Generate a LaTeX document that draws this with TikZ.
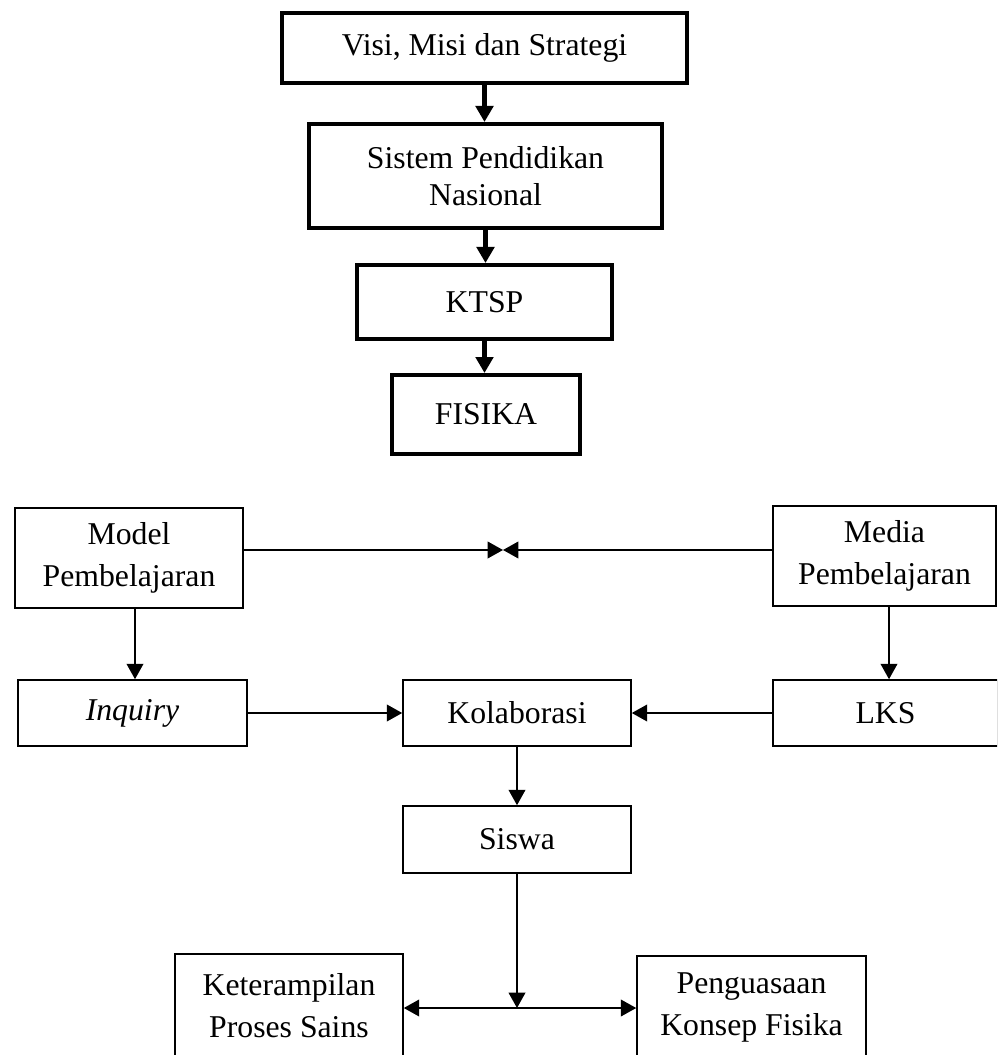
\documentclass[tikz,border=0pt]{standalone}
\usepackage{fontspec}
\setmainfont{Liberation Serif}
\usetikzlibrary{arrows.meta}
\begin{document}
\begin{tikzpicture}[x=0.75pt,y=-0.75pt,
  thickbox/.style={draw, line width=3pt, inner sep=0pt, align=center, font=\fontsize{23.8}{27.5}\selectfont},
  thinbox/.style={draw, line width=1.2pt, inner sep=0pt, align=center, font=\fontsize{23.8}{31.5}\selectfont},
  thickarr/.style={line width=3.2pt, -{Triangle[length=12pt,width=13pt]}},
  thinarr/.style={line width=1.2pt, -{Triangle[length=11.5pt,width=12.5pt]}}]
\useasboundingbox (0,0) rectangle (997,1055);
\clip (0,0) rectangle (997,1055);

% top chain
\node[thickbox, minimum width=303.75pt, minimum height=52.5pt] (visi) at (484.5,48) {Visi, Misi dan Strategi};
\node[thickbox, minimum width=264.75pt, minimum height=78pt] (sistem) at (485.5,176) {Sistem Pendidikan\\Nasional};
\node[thickbox, minimum width=191.25pt, minimum height=55.5pt] (ktsp) at (484.5,302) {KTSP};
\node[thickbox, minimum width=141pt, minimum height=59.25pt] (fisika) at (486,414.5) {FISIKA};

\draw[thickarr] (visi.south) -- (visi.south |- sistem.north);
\draw[thickarr] (sistem.south) -- (sistem.south |- ktsp.north);
\draw[thickarr] (ktsp.south) -- (ktsp.south |- fisika.north);

% lower part
\node[thinbox, minimum width=171pt, minimum height=75pt] (model) at (129,558) {Model\\Pembelajaran};
\node[thinbox, minimum width=167.25pt, minimum height=75pt] (media) at (884.5,556) {Media\\Pembelajaran};
\node[thinbox, minimum width=171.75pt, minimum height=49.5pt] (inquiry) at (132.5,713) {\textit{Inquiry}};
\node[thinbox, minimum width=171pt, minimum height=49.5pt] (kolab) at (517,713) {Kolaborasi};
\node[thinbox, minimum width=168.75pt, minimum height=49.5pt] (lks) at (885.5,713) {LKS};
\node[thinbox, minimum width=171pt, minimum height=50.25pt] (siswa) at (517,839.5) {Siswa};
\node[thinbox, minimum width=171pt, minimum height=78pt] (ket) at (289,1006) {Keterampilan\\Proses Sains};
\node[thinbox, minimum width=171.75pt, minimum height=76.5pt] (peng) at (751.5,1007) {Penguasaan\\Konsep Fisika};

\coordinate (mid) at (503,550);
\coordinate (split) at (517,1008);
\coordinate (mx) at (135,0);
\coordinate (lx) at (889,0);

\draw[thinarr] (mid -| model.east) -- (mid);
\draw[thinarr] (mid -| media.west) -- (mid);
\draw[thinarr] (mx |- model.south) -- (mx |- inquiry.north);
\draw[thinarr] (lx |- media.south) -- (lx |- lks.north);
\draw[thinarr] (inquiry.east) -- (kolab.west);
\draw[thinarr] (lks.west) -- (kolab.east);
\draw[thinarr] (kolab.south) -- (siswa.north);
\draw[thinarr] (siswa.south) -- (split);
\draw[thinarr] (split) -- (split -| ket.east);
\draw[thinarr] (split) -- (split -| peng.west);
\end{tikzpicture}
\end{document}
